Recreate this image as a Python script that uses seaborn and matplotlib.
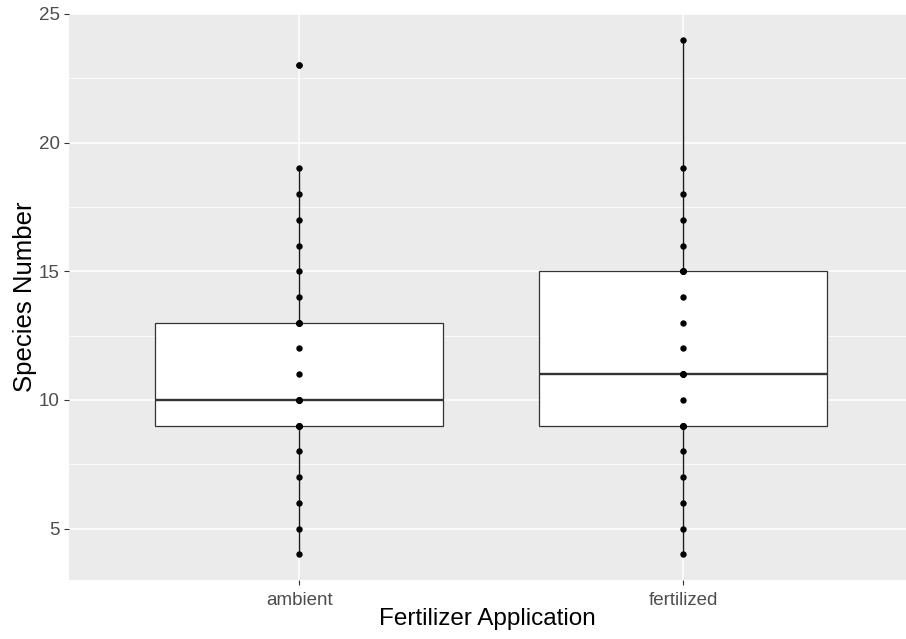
import numpy as np
import pandas as pd
import matplotlib
matplotlib.use("Agg")
import matplotlib.pyplot as plt
from matplotlib.ticker import MultipleLocator
import seaborn as sns

# Species counts per plot, by fertilizer treatment
ambient = [4, 5, 6, 7, 8,
           9, 9, 9, 9, 9, 9,
           10, 10, 10, 10, 10, 10,
           11, 12,
           13, 13, 13, 13, 13,
           14, 15, 16, 17, 18, 19,
           23]
fertilized = [4, 5, 6, 7, 8,
              9, 9, 9, 9, 9, 9,
              10,
              11, 11, 11, 11, 11,
              12, 13, 14,
              15, 15, 15, 15, 15, 15,
              16, 17, 18, 19,
              24]
groups = ["ambient", "fertilized"]
y_ticks = [5, 10, 15, 20, 25]

df = pd.DataFrame({
    "treatment": ["ambient"] * len(ambient) + ["fertilized"] * len(fertilized),
    "species": ambient + fertilized,
})

sns.set_theme(style="darkgrid")
plt.rcParams["font.family"] = ["Liberation Sans", "DejaVu Sans"]

fig = plt.figure(figsize=(9.06, 6.39), dpi=100)
ax = fig.add_axes([69 / 906, 59 / 639, 1 - 69 / 906, (580 - 14) / 639])
ax.set_facecolor("#EBEBEB")

sns.boxplot(data=df, x="treatment", y="species", order=groups, ax=ax,
            width=0.75, whis=1.5, color="white", linecolor="#333333",
            linewidth=0.9, fill=True, saturation=1,
            boxprops=dict(facecolor="white", edgecolor="#333333", zorder=3),
            medianprops=dict(color="#333333", linewidth=1.7, zorder=4),
            whiskerprops=dict(color="#1a1a1a", linewidth=1.0, zorder=3),
            capprops=dict(linewidth=0),
            flierprops=dict(marker="o", markerfacecolor="black",
                            markeredgecolor="black", markeredgewidth=0,
                            markersize=4.6, zorder=5))

sns.stripplot(data=df, x="treatment", y="species", order=groups, ax=ax,
              jitter=False, color="black", size=4.6, linewidth=0, zorder=6)

ax.set_ylim(3, 25)
ax.set_xlim(-0.6, 1.58)
ax.set_yticks(y_ticks)
ax.yaxis.set_minor_locator(MultipleLocator(2.5))
ax.grid(which="major", color="white", linewidth=1.1, zorder=0)
ax.grid(which="minor", axis="y", color="white", linewidth=0.55, zorder=0)
ax.set_axisbelow(True)
for s in ax.spines.values():
    s.set_visible(False)

ax.tick_params(axis="both", which="major", length=3.5, width=0.8, color="#333333",
               labelcolor="#4D4D4D", labelsize=13.5)
ax.tick_params(axis="x", pad=5)
ax.tick_params(axis="y", pad=3)
ax.tick_params(axis="both", which="minor", length=0)
ax.tick_params(axis="both", bottom=True, left=True)

ax.set_xlabel("Fertilizer Application", fontsize=17.5, color="black")
ax.set_ylabel("Species Number", fontsize=18.5, color="black")
ax.xaxis.set_label_coords(0.5, (580 - 608) / 566)
ax.yaxis.set_label_coords((37 - 69) / 837, 0.5)

fig.savefig("out.png", dpi=100)
